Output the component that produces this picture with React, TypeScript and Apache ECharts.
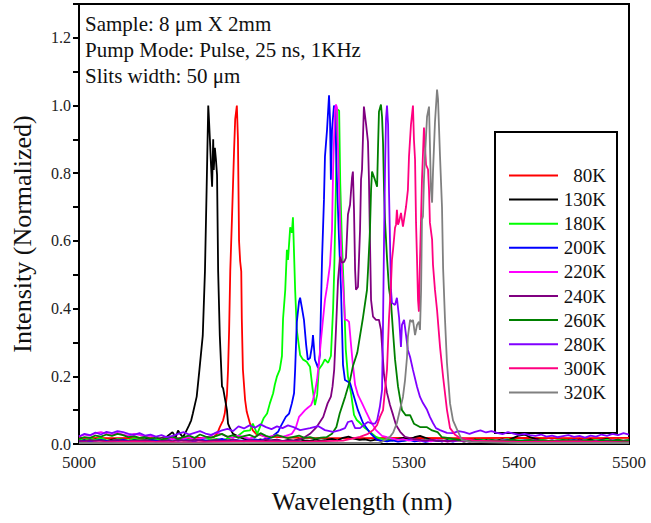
import React, { useEffect, useRef } from "react";
import * as echarts from "echarts";

const seriesNames = ["80K", "130K", "180K", "200K", "220K", "240K", "260K", "280K", "300K", "320K"];
const seriesColors = ["#FF0000", "#000000", "#00FF00", "#0000FF", "#FF00FF", "#800080", "#008000", "#8000FF", "#FF0080", "#808080"];

const xTicks = [5000, 5100, 5200, 5300, 5400, 5500];
const yTickLabels = ["0.0", "0.2", "0.4", "0.6", "0.8", "1.0", "1.2"];
const noteLines = ["Sample: 8 \u03bcm X 2mm", "Pump Mode: Pulse, 25 ns, 1KHz", "Slits width: 50 \u03bcm"];

// Baselines: values in thousandths, 5 nm steps. "Low" starts at 5000 nm, "High" ends at 5500 nm.
const k80Low: number[] = [];
const k80Peak = [[5000, 0.018], [5030, 0.017], [5060, 0.018], [5090, 0.017], [5115, 0.019], [5122.5, 0.02], [5125.5, 0.03], [5128, 0.05], [5131, 0.07], [5132.5, 0.09], [5134.5, 0.145], [5135.5, 0.22], [5136.5, 0.34], [5137.5, 0.51], [5139, 0.66], [5141, 0.87], [5142, 0.96], [5143.5, 1.0], [5144.5, 0.9], [5145.5, 0.6], [5146.5, 0.54], [5147.5, 0.51], [5148, 0.37], [5149, 0.22], [5151, 0.13], [5152.5, 0.095], [5155.5, 0.06], [5158, 0.04], [5161, 0.03], [5170, 0.022], [5200, 0.018], [5250, 0.017], [5300, 0.018], [5350, 0.017], [5400, 0.018], [5450, 0.017], [5500, 0.018]];
const k80High: number[] = [];

const k130Low = [10, 12, 8, 14, 11, 9, 13, 15, 12, 10, 14, 11, 16, 13, 12, 18, 22, 35];
const k130Peak = [[5088, 0.02], [5090, 0.04], [5092, 0.03], [5094.5, 0.02], [5097, 0.035], [5100, 0.055], [5102, 0.07], [5103.5, 0.09], [5107, 0.14], [5109.5, 0.22], [5112.5, 0.32], [5114.5, 0.51], [5116, 0.75], [5117.5, 1.0], [5118, 0.97], [5119, 0.9], [5120, 0.825], [5121, 0.76], [5122, 0.9], [5122.5, 0.81], [5123.5, 0.875], [5124.5, 0.84], [5125.5, 0.795], [5126.5, 0.51], [5128, 0.32], [5130, 0.17], [5131, 0.165], [5134.5, 0.1], [5135.5, 0.06], [5137.5, 0.045], [5140, 0.03]];
const k130High = [22, 15, 12, 10, 14, 9, 11, 13, 8, 12, 10, 14, 11, 9, 13, 10, 12, 15, 11, 18, 22, 16, 12, 14, 10, 13, 9, 12, 11, 15, 18, 14, 20, 24, 18, 12, 10, 8, 12, 9, 11, 7, 10, 13, 9, 12, 8, 11, 14, 10, 18, 25, 28, 20, 15, 12, 10, 8, 11, 9, 12, 8, 13, 10, 14, 9, 12, 15, 10, 13, 9, 12];

const k180Low = [14, 10, 16, 12, 18, 11, 9, 15, 13, 10, 17, 12, 14, 9, 13, 16, 11, 12, 15, 10, 13, 9, 14, 18, 12, 15, 11, 16, 20, 25, 38];
const k180Peak = [[5155.5, 0.04], [5158, 0.06], [5162, 0.03], [5164.5, 0.05], [5168, 0.077], [5171, 0.09], [5173.5, 0.12], [5176.5, 0.15], [5178, 0.175], [5180, 0.2], [5182.5, 0.22], [5184.5, 0.26], [5185.5, 0.37], [5187.5, 0.455], [5189, 0.574], [5190, 0.544], [5192, 0.64], [5193.5, 0.624], [5194.5, 0.67], [5196.5, 0.455], [5198, 0.337], [5201, 0.263], [5203.5, 0.25], [5207, 0.243], [5210, 0.228], [5212.5, 0.16], [5214.5, 0.115], [5216.5, 0.145], [5218, 0.22], [5221, 0.234], [5223.5, 0.25], [5226.5, 0.24], [5229, 0.26], [5231, 0.4], [5232, 0.51], [5233.5, 0.75], [5234.5, 0.99], [5236.5, 0.985], [5237.5, 0.77], [5239, 0.6], [5241, 0.43], [5242.5, 0.28], [5244.5, 0.2], [5247.5, 0.145], [5250, 0.086], [5252.5, 0.071], [5255.5, 0.062], [5260, 0.047], [5264.5, 0.036], [5270, 0.021]];
const k180High = [15, 12, 10, 14, 9, 12, 11, 8, 13, 10, 12, 9, 11, 14, 10, 8, 12, 9, 13, 11, 10, 8, 12, 14, 9, 11, 10, 13, 8, 12, 10, 9, 11, 13, 10, 12, 8, 11, 9, 12, 10, 13, 9, 11, 10, 12];

const k200Low = [8, 11, 7, 10, 12, 9, 6, 10, 13, 8, 11, 9, 7, 12, 10, 8, 11, 14, 9, 12, 10, 8, 13, 11, 9, 12, 15, 10, 13, 11, 9, 12, 14, 11, 16];
const k200Peak = [[5174, 0.018], [5181, 0.036], [5183, 0.05], [5188, 0.08], [5191, 0.09], [5193.5, 0.12], [5195.5, 0.15], [5196.5, 0.22], [5198, 0.36], [5200, 0.42], [5201, 0.432], [5202.5, 0.405], [5204.5, 0.367], [5206.5, 0.293], [5208, 0.249], [5210, 0.254], [5212, 0.293], [5212.7, 0.322], [5214.5, 0.249], [5217.3, 0.225], [5219, 0.263], [5221, 0.553], [5222.7, 0.722], [5223.6, 0.849], [5225.5, 0.929], [5227.3, 1.03], [5228.2, 0.959], [5229, 0.781], [5230, 0.929], [5231.8, 1.0], [5232.7, 0.994], [5234.5, 0.781], [5236.4, 0.604], [5238.2, 0.456], [5240, 0.234], [5241.8, 0.189], [5246.4, 0.18], [5249, 0.151], [5253.6, 0.1], [5258.2, 0.062], [5264.5, 0.033], [5271, 0.012]];
const k200High = [10, 8, 11, 7, 9, 12, 8, 10, 6, 9, 11, 8, 10, 7, 12, 9, 8, 10, 11, 7, 9, 8, 10, 12, 7, 9, 11, 8, 10, 9, 7, 11, 8, 10, 9, 12, 8, 10, 7, 9, 11, 8, 10, 9, 8, 10];

const k220Low = [22, 28, 25, 32, 35, 30, 26, 33, 28, 24, 30, 27, 22, 25, 19, 16, 18, 14, 17, 15, 20, 13, 16, 19, 24, 35, 28, 22, 18, 25, 20, 16, 22, 28, 19, 23, 26, 21];
const k220Peak = [[5188, 0.024], [5193.5, 0.03], [5197, 0.047], [5200, 0.08], [5202.5, 0.089], [5205.5, 0.1], [5208, 0.107], [5211, 0.115], [5212.7, 0.13], [5214.5, 0.154], [5216.4, 0.189], [5218.2, 0.243], [5220, 0.308], [5221.8, 0.367], [5223.6, 0.426], [5225.5, 0.464], [5228.2, 0.53], [5230, 0.633], [5231, 0.811], [5232.7, 0.988], [5233.6, 1.003], [5234.5, 0.994], [5235.5, 0.87], [5237.3, 0.663], [5239, 0.515], [5240, 0.476], [5241.8, 0.367], [5243.6, 0.367], [5245.5, 0.361], [5247.3, 0.293], [5249, 0.234], [5251, 0.175], [5253.6, 0.145], [5257.3, 0.121], [5261, 0.095], [5264.5, 0.071], [5270, 0.041], [5275.5, 0.024]];
const k220High = [20, 16, 12, 14, 10, 13, 9, 11, 8, 12, 10, 7, 9, 11, 8, 10, 12, 9, 7, 10, 8, 11, 9, 7, 10, 8, 12, 9, 10, 8, 11, 7, 9, 10, 8, 11, 9, 7, 10, 8, 9, 11, 8, 10, 9];

const k240Low = [10, 8, 12, 9, 11, 7, 10, 13, 9, 8, 11, 10, 12, 9, 7, 10, 11, 8, 12, 10, 9, 13, 11, 8, 10, 12, 9, 11, 13, 10, 8, 12, 11, 9, 14, 10, 12, 9, 11, 10];
const k240Peak = [[5200, 0.012], [5205, 0.02], [5210, 0.03], [5216, 0.05], [5222, 0.08], [5226, 0.12], [5229, 0.14], [5230.5, 0.17], [5232, 0.22], [5233.6, 0.337], [5235.5, 0.485], [5237.3, 0.553], [5239, 0.536], [5241, 0.538], [5242.7, 0.55], [5244.5, 0.678], [5246.4, 0.707], [5248.2, 0.787], [5249, 0.805], [5250, 0.692], [5251, 0.515], [5251.8, 0.456], [5253.6, 0.464], [5255.5, 0.633], [5256.4, 0.781], [5257.3, 0.811], [5259, 0.997], [5261, 0.944], [5262.7, 0.893], [5263.6, 0.781], [5264.5, 0.604], [5265.5, 0.426], [5267.3, 0.376], [5270, 0.367], [5272.7, 0.367], [5274.5, 0.337], [5277.3, 0.204], [5280, 0.151], [5282.7, 0.115], [5285.5, 0.086], [5288.2, 0.056], [5292, 0.036], [5296.4, 0.021]];
const k240High = [18, 14, 12, 10, 13, 9, 11, 8, 10, 12, 9, 7, 11, 10, 8, 12, 9, 10, 7, 11, 8, 10, 9, 12, 8, 10, 7, 9, 11, 8, 10, 9, 7, 10, 8, 11, 9, 10, 8, 9, 10];

const k260Low = [15, 20, 18, 25, 22, 28, 24, 30, 26, 20, 23, 18, 21, 16, 19, 14, 17, 22, 15, 20, 25, 18, 28, 22, 19, 24, 30, 21, 26, 18, 23, 27, 20, 32, 24, 19, 26, 22, 17, 21, 25, 18, 20, 16, 19];
const k260Peak = [[5225, 0.02], [5230, 0.03], [5234, 0.05], [5237, 0.09], [5242, 0.14], [5246.5, 0.19], [5249, 0.23], [5253, 0.27], [5255.5, 0.32], [5258, 0.37], [5261.8, 0.455], [5262.7, 0.51], [5264.5, 0.63], [5265.5, 0.75], [5266.4, 0.805], [5269, 0.781], [5271, 0.76], [5271.8, 0.87], [5272.7, 0.982], [5274.5, 1.003], [5275.5, 0.967], [5276.4, 0.89], [5277.3, 0.75], [5278.2, 0.66], [5280, 0.55], [5281.8, 0.46], [5283.6, 0.42], [5285.5, 0.33], [5287.3, 0.25], [5290, 0.17], [5293.6, 0.1], [5297, 0.085], [5301, 0.085], [5304.5, 0.06], [5310, 0.05], [5316, 0.05], [5321, 0.04], [5326, 0.035], [5330, 0.02]];
const k260High = [18, 15, 12, 14, 10, 13, 11, 9, 12, 10, 8, 11, 13, 9, 10, 12, 8, 11, 9, 10, 7, 12, 9, 10, 8, 11, 9, 7, 10, 8, 9, 11, 8, 10];

const k280Low = [22, 30, 26, 34, 28, 36, 32, 38, 35, 30, 27, 32, 25, 28, 22, 26, 20, 24, 30, 35, 28, 33, 38, 31, 27, 34, 40, 45, 38, 52, 46, 55, 48, 58, 50, 44, 52, 47, 55, 50];
const k280Peak = [[5201, 0.041], [5210, 0.047], [5217.3, 0.053], [5223.6, 0.041], [5231, 0.036], [5237.3, 0.041], [5241.8, 0.047], [5244.5, 0.065], [5248.2, 0.068], [5251, 0.047], [5255.5, 0.047], [5260, 0.059], [5262.7, 0.065], [5266.4, 0.06], [5269, 0.06], [5271, 0.07], [5273.5, 0.11], [5275.5, 0.16], [5276.4, 0.36], [5277.3, 0.6], [5278.2, 0.81], [5279.1, 0.96], [5280, 1.0], [5281, 0.944], [5281.8, 0.751], [5282.7, 0.604], [5283.6, 0.456], [5284.5, 0.417], [5287.3, 0.411], [5289, 0.432], [5291, 0.373], [5292.7, 0.287], [5293.6, 0.352], [5295.5, 0.367], [5297.3, 0.322], [5299, 0.278], [5301, 0.257], [5303.6, 0.219], [5307.3, 0.169], [5310, 0.139], [5312.7, 0.121], [5316.4, 0.101], [5319, 0.08], [5321.8, 0.062], [5324.5, 0.047], [5328.2, 0.041], [5334.5, 0.033]];
const k280High = [32, 38, 35, 30, 36, 40, 34, 38, 33, 29, 35, 31, 27, 30, 26, 24, 28, 22, 25, 20, 23, 26, 21, 24, 19, 25, 22, 28, 24, 30, 26, 32, 28];

const k300Low: number[] = [];
const k300Peak = [[5000, 0.004], [5050, 0.007], [5100, 0.005], [5150, 0.008], [5200, 0.006], [5240, 0.01], [5255.5, 0.021], [5262.7, 0.03], [5267.3, 0.041], [5271, 0.056], [5273.6, 0.08], [5276.4, 0.1], [5280, 0.22], [5281.8, 0.37], [5283.6, 0.47], [5284.5, 0.544], [5285.5, 0.574], [5287.3, 0.639], [5288.2, 0.648], [5289, 0.692], [5290, 0.648], [5291, 0.657], [5292.7, 0.683], [5294.5, 0.642], [5295.5, 0.663], [5297.3, 0.701], [5299, 0.751], [5300, 0.849], [5301.8, 0.944], [5303.6, 1.0], [5304.5, 0.899], [5305.5, 0.84], [5306.4, 0.654], [5307.3, 0.544], [5308.2, 0.426], [5309, 0.391], [5310, 0.544], [5311.8, 0.781], [5313.6, 0.935], [5315.5, 0.825], [5317.3, 0.811], [5318.2, 0.751], [5319, 0.654], [5321, 0.604], [5321.8, 0.53], [5323.6, 0.456], [5325.5, 0.396], [5328.2, 0.287], [5331, 0.198], [5334.5, 0.101], [5337.3, 0.047], [5342, 0.027], [5346.4, 0.018], [5360, 0.01], [5400, 0.006], [5450, 0.008], [5500, 0.005]];
const k300High: number[] = [];

const k320Low: number[] = [];
const k320Peak = [[5000, 0.003], [5100, 0.002], [5200, 0.003], [5260, 0.003], [5273.6, 0.003], [5282.7, 0.021], [5285.5, 0.033], [5289, 0.062], [5291.8, 0.101], [5294.5, 0.139], [5296.4, 0.189], [5298.2, 0.257], [5299, 0.317], [5301, 0.367], [5302.7, 0.361], [5303.6, 0.367], [5305.5, 0.322], [5307.3, 0.352], [5309, 0.361], [5310, 0.337], [5311, 0.456], [5311.8, 0.663], [5312.7, 0.672], [5313.6, 0.781], [5314.5, 0.849], [5316.4, 0.967], [5318.2, 0.997], [5320, 0.751], [5321, 0.713], [5321.8, 0.802], [5323.6, 0.95], [5325.5, 1.047], [5326.4, 1.018], [5328.2, 0.85], [5330, 0.7], [5331, 0.52], [5332.7, 0.37], [5334.5, 0.24], [5337.3, 0.12], [5340, 0.07], [5344, 0.04], [5348, 0.012], [5356, 0.006], [5400, 0.003], [5500, 0.003]];
const k320High: number[] = [];

const lows = [k80Low, k130Low, k180Low, k200Low, k220Low, k240Low, k260Low, k280Low, k300Low, k320Low];
const peaks = [k80Peak, k130Peak, k180Peak, k200Peak, k220Peak, k240Peak, k260Peak, k280Peak, k300Peak, k320Peak];
const highs = [k80High, k130High, k180High, k200High, k220High, k240High, k260High, k280High, k300High, k320High];

function buildPoints(low: number[], pairs: number[][], high: number[]) {
  const first = pairs.length ? pairs[0][0] : Infinity;
  const last = pairs.length ? pairs[pairs.length - 1][0] : -Infinity;
  const pts: number[][] = [];
  low.forEach((v, i) => {
    const x = 5000 + 5 * i;
    if (x < first) pts.push([x, v / 1000]);
  });
  pairs.forEach((p) => pts.push(p));
  const start = 5500 - 5 * (high.length - 1);
  high.forEach((v, i) => {
    const x = start + 5 * i;
    if (x > last) pts.push([x, v / 1000]);
  });
  return pts;
}

const SERIF = '"Liberation Serif", "Times New Roman", serif';

export default function App() {
  const ref = useRef<HTMLDivElement>(null);
  useEffect(() => {
    if (!ref.current) return;
    const chart = echarts.init(ref.current, null, { renderer: "svg" });
    const series = seriesNames.map((name, i) => ({
      name,
      type: "line",
      data: buildPoints(lows[i], peaks[i], highs[i]),
      showSymbol: false,
      symbol: "none",
      color: seriesColors[i],
      lineStyle: { color: seriesColors[i], width: 1.8 },
      z: 2 + i,
    }));
    chart.setOption({
      animation: false,
      backgroundColor: "#ffffff",
      grid: { left: 79, right: 22, top: 4, bottom: 79, show: true, borderColor: "#000", borderWidth: 2, backgroundColor: "transparent" },
      xAxis: {
        type: "value",
        min: xTicks[0],
        max: xTicks[xTicks.length - 1],
        interval: 100,
        name: "Wavelength (nm)",
        nameLocation: "middle",
        nameGap: 44,
        nameTextStyle: { fontFamily: SERIF, fontSize: 26, color: "#111", padding: [0, 0, 0, 16] },
        axisLine: { lineStyle: { color: "#000", width: 2 } },
        axisTick: { show: false },
        splitLine: { show: false },
        axisLabel: { fontFamily: SERIF, fontSize: 17, color: "#222", margin: 10, formatter: (v: number) => String(v) },
      },
      yAxis: {
        type: "value",
        min: 0,
        max: 1.3,
        interval: 0.1,
        name: "Intensity (Normalized)",
        nameLocation: "middle",
        nameGap: 44,
        nameTextStyle: { fontFamily: SERIF, fontSize: 26, color: "#111", padding: [0, 20, 0, 0] },
        axisLine: { show: true, lineStyle: { color: "#000", width: 2 } },
        axisTick: { show: true, length: 6, inside: false, lineStyle: { color: "#000", width: 2 } },
        splitLine: { show: false },
        axisLabel: {
          fontFamily: SERIF,
          fontSize: 16,
          color: "#222",
          margin: 8,
          formatter: (v: number) => {
            const k = Math.round(v * 10);
            return k % 2 === 0 && k / 2 < yTickLabels.length ? yTickLabels[k / 2] : "";
          },
        },
      },
      legend: {
        orient: "vertical",
        left: 495,
        top: 132,
        data: seriesNames,
        icon: "rect",
        itemWidth: 49,
        itemHeight: 2,
        itemGap: 5.1,
        borderColor: "#000",
        borderWidth: 2,
        padding: [34, 11, 31, 14],
        backgroundColor: "#fff",
        selectedMode: false,
        formatter: (name: string) => `{n|${name}}`,
        textStyle: {
          rich: { n: { width: 43, align: "right", fontSize: 19, lineHeight: 20, fontFamily: SERIF, color: "#111" } },
        },
      },
      graphic: noteLines.map((t, i) => ({
        type: "text",
        x: 85,
        y: 24 + i * 26,
        z: 100,
        style: { text: t, font: `21px ${SERIF}`, fill: "#111", verticalAlign: "middle" },
      })),
      series,
    });
    return () => chart.dispose();
  }, []);
  return <div ref={ref} style={{ position: "fixed", left: 0, top: 0, width: 651, height: 523, background: "#fff" }} />;
}
